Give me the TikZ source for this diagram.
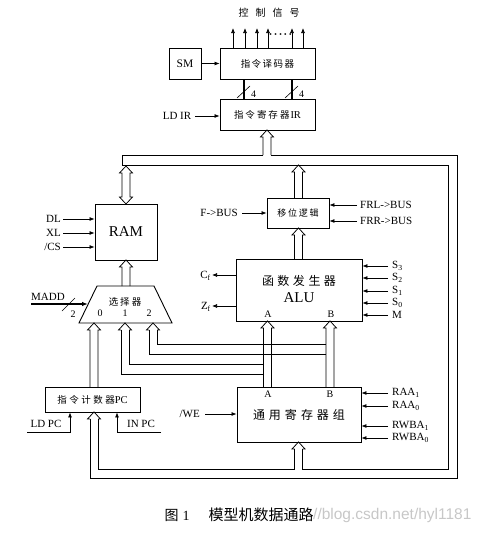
\documentclass[tikz,border=0pt]{standalone}
\usepackage{fontspec}
\setmainfont{Liberation Serif}
\newfontfamily\cjk{Noto Sans CJK SC}
\newfontfamily\wmfont{Liberation Sans}
\usetikzlibrary{arrows.meta,calc}
\newcommand\spc[2]{\def\cjkgap{#1}\spcA#2\relax\unskip}
\def\spcA#1{\ifx\relax#1\else#1\hspace{\cjkgap}\expandafter\spcA\fi}
% bus arrow pointing up: #1 centre x, #2 start y (bottom), #3 tip y
\newcommand\busup[3]{\draw[bus] (#1-4,#2) -- (#1-4,#3+7) -- (#1-6.5,#3+7) -- (#1,#3) -- (#1+6.5,#3+7) -- (#1+4,#3+7) -- (#1+4,#2);}
\newcommand\cjkf[1]{\cjk\fontsize{#1}{#1}\selectfont}
\begin{document}
\begin{tikzpicture}[x=1pt,y=-1pt,
  every node/.style={font=\fontsize{11}{13}\selectfont, inner sep=0pt},
  box/.style={draw,line width=0.9pt},
  sig/.style={line width=0.7pt,-{Latex[length=5pt,width=4pt]}},
  bus/.style={line width=0.75pt},
  thickbus/.style={line width=2.6pt},
  small/.style={font=\fontsize{10}{12}\selectfont}]
\useasboundingbox (0,0) rectangle (490,533);

% ---------- top: decoder, SM, IR ----------
\node (ctl) at (269,13) {\cjkf{10}\spc{7pt}{控制信号}};
\node[box,minimum width=32pt,minimum height=31pt,font=\fontsize{11.5}{13}\selectfont] (sm) at (185,63.5) {SM};
\node[box,minimum width=95pt,minimum height=31pt] (dec) at (267.5,63.5) {\cjkf{9.5}\spc{1.5pt}{指令译码器}};
\node[box,minimum width=95pt,minimum height=31pt] (ir) at (267.5,114.5) {{\cjkf{9.5}\spc{2pt}{指令寄存器}}\hspace{1pt}{\fontsize{10.5}{12}\selectfont IR}};
\foreach \xx/\nm in {233/o1,245/o2,257/o3,268/o4,292/o5,303/o6}{
  \coordinate (\nm) at (\xx,28);
  \draw[sig] (dec.north -| \nm) -- (\nm);
}
\node[font=\fontsize{15}{15}\selectfont] (dots) at (280.5,37) {·····};
\draw[sig] (sm) -- (dec);
\node (ldir) at (177,116) {LD IR};
\draw[sig] (ldir.east |- ir.west) ++(4,1.5) -- (ir.west |- 0,116);
\coordinate (w1) at (244,0);
\coordinate (w2) at (292,0);
\draw[thickbus] (dec.south -| w1) -- (ir.north -| w1);
\draw[thickbus] (dec.south -| w2) -- (ir.north -| w2);
\draw[line width=0.6pt] (237,98) -- (250,86);
\draw[line width=0.6pt] (285,98) -- (298,86);
\node[small] (n4a) at (253.5,94) {4};
\node[small] (n4b) at (301.5,94) {4};

% ---------- RAM ----------
\node[box,minimum width=62pt,minimum height=56pt,font=\fontsize{15}{17}\selectfont] (ram) at (126,232) {RAM};
\node[anchor=east] (dl) at (61,219) {DL};
\node[anchor=east] (xl) at (61,233) {XL};
\node[anchor=east] (cs) at (61,247) {/CS};
\draw[sig] (dl.east) ++(2,0) -- (ram.west |- dl.east);
\draw[sig] (xl.east) ++(2,0) -- (ram.west |- xl.east);
\draw[sig] (cs.east) ++(2,0) -- (ram.west |- cs.east);
% RAM double bus arrow
\draw[bus] (122,173) -- (122,197) -- (119.5,197) -- (126,204) -- (132.5,197) -- (130,197) -- (130,173) -- (132.5,173) -- (126,166) -- (119.5,173) -- cycle;

% ---------- selector ----------
\draw[box] (97,286) coordinate (selTL) -- (154,286) coordinate (selTR) -- (172,323) coordinate (selBR) -- (79,323) coordinate (selBL) -- cycle;
\node (seltxt) at (125,302) {\cjkf{9.5}\spc{2pt}{选择器}};
\node[small] (s0) at (100,313) {0};
\node[small] (s1) at (125,313) {1};
\node[small] (s2) at (149,313) {2};
\busup{126}{286}{260}
\node (madd) at (48,296.5) {MADD};
\coordinate (maddst) at (31,304);
\draw[line width=1.3pt,-{Latex[length=6pt,width=4.5pt]}] (maddst) -- (88,304);
\draw[line width=0.6pt] (62,311) -- (75,298);
\node[small] (m2) at (73,314) {2};

% ---------- shift logic & ALU ----------
\node[box,minimum width=62pt,minimum height=30pt] (shift) at (298,213) {\cjkf{9}\spc{1.8pt}{移位逻辑}};
\node[anchor=east] (fbus) at (238,213) {F->BUS};
\draw[sig] (fbus.east) ++(4,0) -- (shift.west);
\node[anchor=west] (frl) at (360,205) {FRL->BUS};
\node[anchor=west] (frr) at (360,221) {FRR->BUS};
\draw[sig] (frl.west) ++(-3,0) -- (shift.east |- frl.west);
\draw[sig] (frr.west) ++(-3,0) -- (shift.east |- frr.west);
\busup{298.5}{198}{165}
\busup{298.5}{259}{228}

\node[box,minimum width=126pt,minimum height=62pt] (alu) at (299,290) {};
\node (alutxt) at (299,281) {\cjkf{12}\spc{3.5pt}{函数发生器}};
\node[font=\fontsize{15}{17}\selectfont] (aluname) at (299,298) {ALU};
\node[small] (alua) at (268,314) {A};
\node[small] (alub) at (331,314) {B};
\foreach \yy/\nm/\tx in {266/s3/S\textsubscript{3},278/s2/S\textsubscript{2},291/s1/S\textsubscript{1},303/s0/S\textsubscript{0},315/m/M}{
  \node[anchor=west] (l\nm) at (392,\yy) {\tx};
  \draw[sig] (388,\yy) -- (alu.east |- 0,\yy);
}
\node[anchor=east] (cf) at (211,276) {C\textsubscript{f}};
\node[anchor=east] (zf) at (211,307) {Z\textsubscript{f}};
\draw[sig] (alu.west |- 0,275) -- (212,275);
\draw[sig] (alu.west |- 0,306) -- (212,306);

% ---------- register file ----------
\node[box,minimum width=124pt,minimum height=55pt] (reg) at (299,414.5) {};
\node (regtxt) at (299,415) {\cjkf{12}\spc{4pt}{通用寄存器组}};
\node[small] (rega) at (268,394) {A};
\node[small] (regb) at (330,394) {B};
\node[anchor=east] (we) at (200,414) {/WE};
\draw[sig] (we.east) ++(5,0) -- (reg.west |- we.east);
\foreach \yy/\nm/\tx in {393/raa1/RAA\textsubscript{1},406/raa0/RAA\textsubscript{0},426/rwba1/RWBA\textsubscript{1},438/rwba0/RWBA\textsubscript{0}}{
  \node[anchor=west] (\nm) at (392,\yy) {\tx};
  \draw[sig] (388,\yy) -- (reg.east |- 0,\yy);
}

% ---------- PC ----------
\node[box,minimum width=95pt,minimum height=25pt] (pc) at (92.5,399.5) {{\cjkf{9.5}\spc{2.5pt}{指令计数器}}{\fontsize{10.5}{12}\selectfont PC}};
\node (ldpc) at (46,424) {LD PC};
\node (inpc) at (141,424) {IN PC};
\coordinate (ldst) at (27,432);
\coordinate (inst) at (161,432);
\draw[sig] (ldst) -- (70,432) -- (pc.south -| 70,0);
\draw[sig] (inst) -- (117,432) -- (pc.south -| 117,0);

% ---------- buses ----------
\busup{267}{155}{130}
\draw[bus] (263,155) -- (122,155) -- (122,165) -- (448,165) -- (448,469) -- (302.5,469) -- (302.5,449);
\draw[bus] (271,155) -- (457,155) -- (457,478) -- (90,478) -- (90,419);
\draw[bus] (294.5,449) -- (294.5,469) -- (98,469) -- (98,419);
\busup{298.5}{449}{442}
\busup{94}{419}{412}
% selector inputs
\busup{94}{387}{323}
\busup{125}{330}{323}
\busup{153}{330}{323}
\draw[bus] (121,330) -- (121,374) -- (263.5,374);
\draw[bus] (129,330) -- (129,364) -- (263.5,364);
\draw[bus] (149,330) -- (149,354) -- (326,354);
\draw[bus] (157,330) -- (157,344) -- (326,344);
% ALU A / B inputs from register file
\busup{267.5}{387}{321}
\busup{330}{387}{321}

% ---------- caption ----------
\node (figlbl) at (171.5,515) {\cjkf{14}图};
\node[font=\fontsize{14}{16}\selectfont] (fignum) at (186,515.5) {1};
\node (figtxt) at (261,515) {\cjkf{15}模型机数据通路};
\node[anchor=west,text=black!22,font=\wmfont\fontsize{15.5}{17}\selectfont] (wm) at (313,515) {//blog.csdn.net/hyl1181};
\end{tikzpicture}
\end{document}
